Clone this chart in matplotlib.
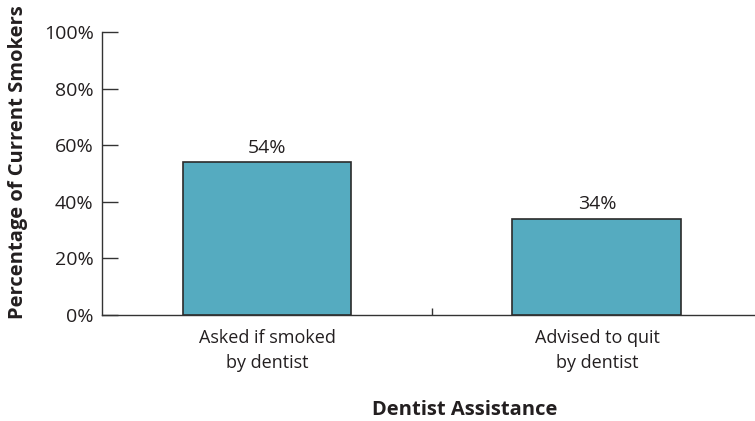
import matplotlib.pyplot as plt

plt.rcParams['font.family'] = ['Open Sans', 'DejaVu Sans']

categories = ['Asked if smoked\nby dentist', 'Advised to quit\nby dentist']
values = [54, 34]
yticks = [0, 20, 40, 60, 80, 100]
ytick_labels = ['0%', '20%', '40%', '60%', '80%', '100%']

txt = '#231f20'
fig = plt.figure(figsize=(7.55, 4.21), dpi=100)
ax = fig.add_axes([102 / 755, 1 - 315 / 421, 653 / 755, 283 / 421])

x = range(len(values))
ax.bar(x, values, width=0.512, color='#55abc0', edgecolor='#2b2b2b', linewidth=1.2, zorder=3)
for xi, v in zip(x, values):
    ax.text(xi, v + 2.0, f'{v}%', ha='center', va='bottom', fontsize=14, color=txt)

ax.set_xlim(-0.5, 1.479)
ax.set_ylim(0, 100)
ax.set_yticks(yticks)
ax.set_yticklabels(ytick_labels, fontsize=14, color=txt)
ax.tick_params(axis='y', direction='in', length=11.5, width=1, color='#333333', pad=6)

ax.set_xticks(list(x))
ax.set_xticklabels(categories, fontsize=13, color=txt, linespacing=1.5)
ax.tick_params(axis='x', length=0, pad=10)
# small separator tick between categories
ax.set_xticks([0.5], minor=True)
ax.tick_params(axis='x', which='minor', direction='in', length=5, width=1, color='#333333')

for s in ['top', 'right']:
    ax.spines[s].set_visible(False)
for s in ['left', 'bottom']:
    ax.spines[s].set_color('#333333')
    ax.spines[s].set_linewidth(1)

fig.text(18 / 755, 1 - 162 / 421, 'Percentage of Current Smokers', rotation=90,
         ha='center', va='center', fontsize=14.5, fontweight='bold', color=txt)
fig.text(465 / 755, 1 - 410 / 421, 'Dentist Assistance', ha='center', va='center',
         fontsize=14.5, fontweight='bold', color=txt)

fig.savefig('out.png', dpi=100)
